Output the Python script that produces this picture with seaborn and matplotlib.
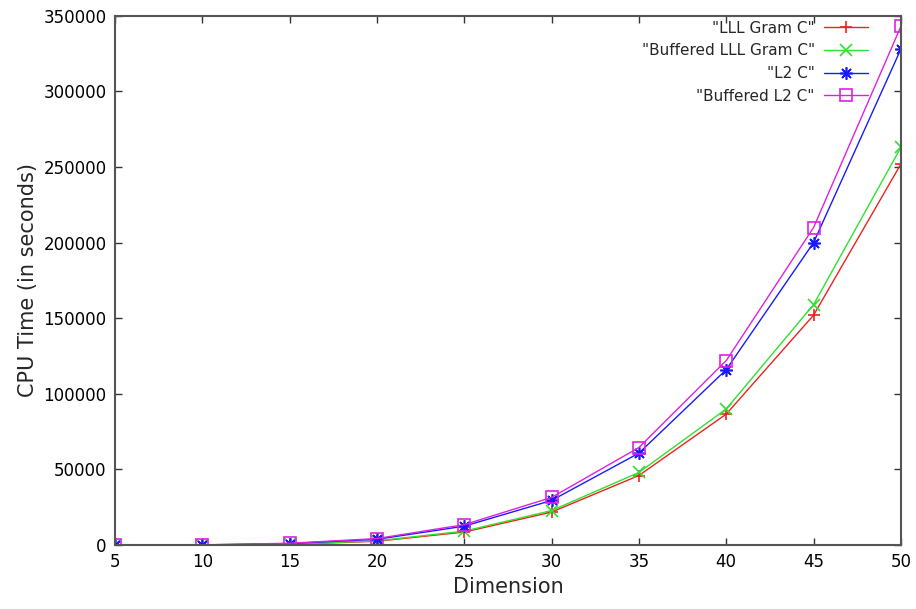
import numpy as np
import pandas as pd
import matplotlib
matplotlib.use("Agg")
import matplotlib.pyplot as plt
import seaborn as sns

# данные
dims = [5, 10, 15, 20, 25, 30, 35, 40, 45, 50]
lll_gram = [0, 50, 500, 2500, 8600, 21800, 46000, 86600, 152000, 252000]
buf_lll_gram = [0, 60, 600, 2800, 9200, 22800, 48000, 90000, 159000, 263000]
l2 = [0, 100, 1000, 3800, 12500, 29500, 60800, 116000, 200000, 328000]
buf_l2 = [0, 110, 1200, 4300, 13500, 31500, 64500, 122000, 210000, 343000]

names = ['"LLL Gram C"', '"Buffered LLL Gram C"', '"L2 C"', '"Buffered L2 C"']
colors = ['#f02020', '#30e030', '#1a1aff', '#e020e0']
markers = ['+', 'x', (8, 2, 0), 's']

df = pd.concat([
    pd.DataFrame({'dim': dims, 'time': vals, 'series': name})
    for name, vals in zip(names, [lll_gram, buf_lll_gram, l2, buf_l2])
])

sns.set_style('ticks')
plt.rcParams['font.family'] = ['DejaVu Sans']

fig = plt.figure(figsize=(9.16, 6.09), dpi=100)
ax = fig.add_axes([0.1255, 0.105, 0.858, 0.869])

# каждая серия отдельно, чтобы смешать линейные и закрашиваемые маркеры
for name, c, m in zip(names, colors, markers):
    sub = df[df['series'] == name]
    sns.lineplot(data=sub, x='dim', y='time', color=c, marker=m,
                 markersize=8 if m == 's' else 9, linewidth=1.0,
                 markeredgecolor=c, markeredgewidth=1.2,
                 markerfacecolor='none' if m == 's' else c,
                 label=name, ax=ax)

handles, labels = ax.get_legend_handles_labels()
ax.get_legend().remove()
ax.legend(handles, labels, loc='upper right', frameon=False, markerfirst=False,
          fontsize=11, handlelength=2.9, handletextpad=0.6, labelspacing=0.5,
          bbox_to_anchor=(0.976, 1.017))

ax.set_xlim(5, 50)
ax.set_ylim(0, 350000)
ax.set_xticks(range(5, 51, 5))
ax.set_yticks(range(0, 350001, 50000))
ax.ticklabel_format(axis='y', style='plain', useOffset=False)
ax.tick_params(direction='in', length=5, width=1, top=True, right=True,
               labelsize=12, colors='#333333', labelcolor='black', pad=6)
for s in ax.spines.values():
    s.set_color('#555555')
    s.set_linewidth(1.5)
ax.set_xlabel('Dimension', fontsize=15)
ax.set_ylabel('CPU Time (in seconds)', fontsize=15)

fig.savefig('out.png', dpi=100)
